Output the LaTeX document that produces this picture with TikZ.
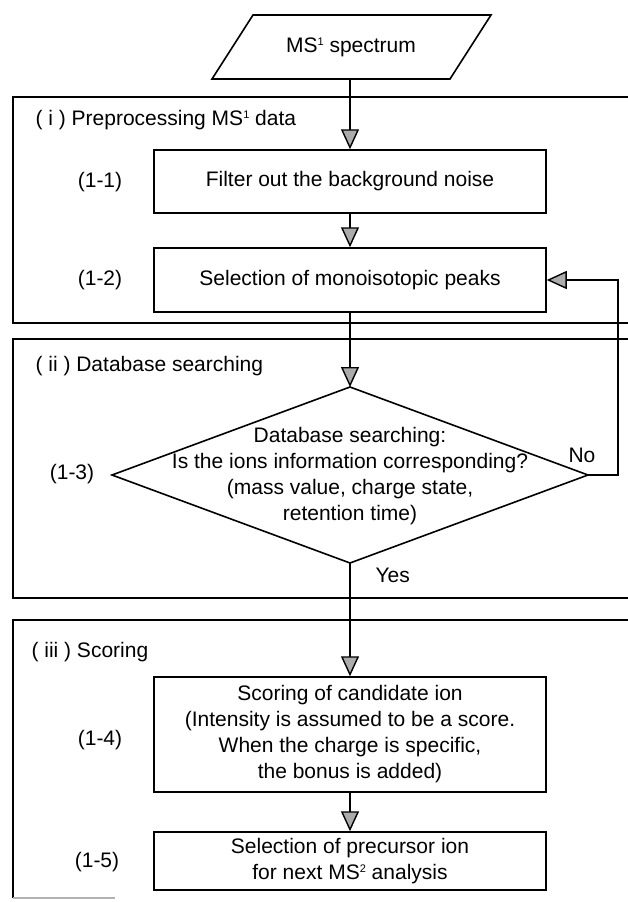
\documentclass[tikz,border=0pt]{standalone}
\usepackage{fontspec}
\setmainfont{Liberation Sans}
\usetikzlibrary{arrows.meta}
\newcommand\supnum[1]{\raisebox{7pt}{\fontsize{11}{11}\selectfont #1}}
\begin{document}
\begin{tikzpicture}[x=1pt,y=-1pt,
  every node/.style={font=\fontsize{21}{26}\selectfont},
  frame/.style={line width=1.8pt},
  procbox/.style={draw, line width=1.5pt, minimum width=392pt, align=center, inner sep=0pt},
  arr/.style={line width=1.4pt, -{Triangle[width=18pt,length=20pt,fill=gray!65]}},
  shapeline/.style={line width=1.6pt, line join=miter},
  steplabel/.style={anchor=center},
  seclabel/.style={anchor=west}]
\useasboundingbox (0,0) rectangle (628,902);

% frames
\draw[frame] (628,97) -| (13,323) -- (628,323);
\draw[frame] (628,339) -| (13,598) -- (628,598);
\draw[frame] (628,620) -| (13,898);
\draw[gray!60, line width=1.6pt] (13,898) -- (115,898);

\node[seclabel] (s1) at (32,120) {( i ) Preprocessing MS\supnum{1} data};
\node[seclabel] (s2) at (32,366) {( ii ) Database searching};
\node[seclabel] (s3) at (28,652) {( iii ) Scoring};

% input parallelogram
\coordinate (pTL) at (253,15);
\coordinate (pTR) at (491,15);
\coordinate (pBR) at (450,79);
\coordinate (pBL) at (212,79);
\coordinate (pB) at (350,79);
\draw[shapeline] (pTL) -- (pTR) -- (pBR) -- (pBL) -- cycle;
\node (ms) at (351,47) {MS\supnum{1} spectrum};

% process boxes
\node[procbox, minimum height=63pt] (b11) at (350,181.5) {Filter out the background noise};
\node[procbox, minimum height=64pt] (b12) at (350,280) {Selection of monoisotopic peaks};
\node[procbox, minimum height=115pt] (b14) at (350,734.5) {Scoring of candidate ion\\(Intensity is assumed to be a score.\\When the charge is specific,\\the bonus is added)};
\node[procbox, minimum height=58pt] (b15) at (350,861) {Selection of precursor ion\\for next MS\supnum{2} analysis};

% decision diamond
\coordinate (dT) at (350,387);
\coordinate (dR) at (588,475);
\coordinate (dB) at (350,563);
\coordinate (dL) at (112,475);
\draw[shapeline] (dT) -- (dR) -- (dB) -- (dL) -- cycle;
\node[align=center] (dq) at (350,476) {Database searching:\\Is the ions information corresponding?\\(mass value, charge state,\\retention time)};

% step labels
\node[steplabel] (l11) at (100,182) {(1-1)};
\node[steplabel] (l12) at (100,280) {(1-2)};
\node[steplabel] (l13) at (72,474) {(1-3)};
\node[steplabel] (l14) at (100,740) {(1-4)};
\node[steplabel] (l15) at (97,862) {(1-5)};

% connectors
\coordinate (fb) at (618,475);
\draw[arr] (pB) -- (b11.north);
\draw[arr] (b11.south) -- (b12.north);
\draw[arr] (b12.south) -- (dT);
\draw[arr] (dR) -- (fb) |- (b12.east);
\draw[arr] (dB) -- (b14.north);
\draw[arr] (b14.south) -- (b15.north);

\node (no) at (582,455) {No};
\node[anchor=west] (yes) at (372,575) {Yes};
\end{tikzpicture}
\end{document}
